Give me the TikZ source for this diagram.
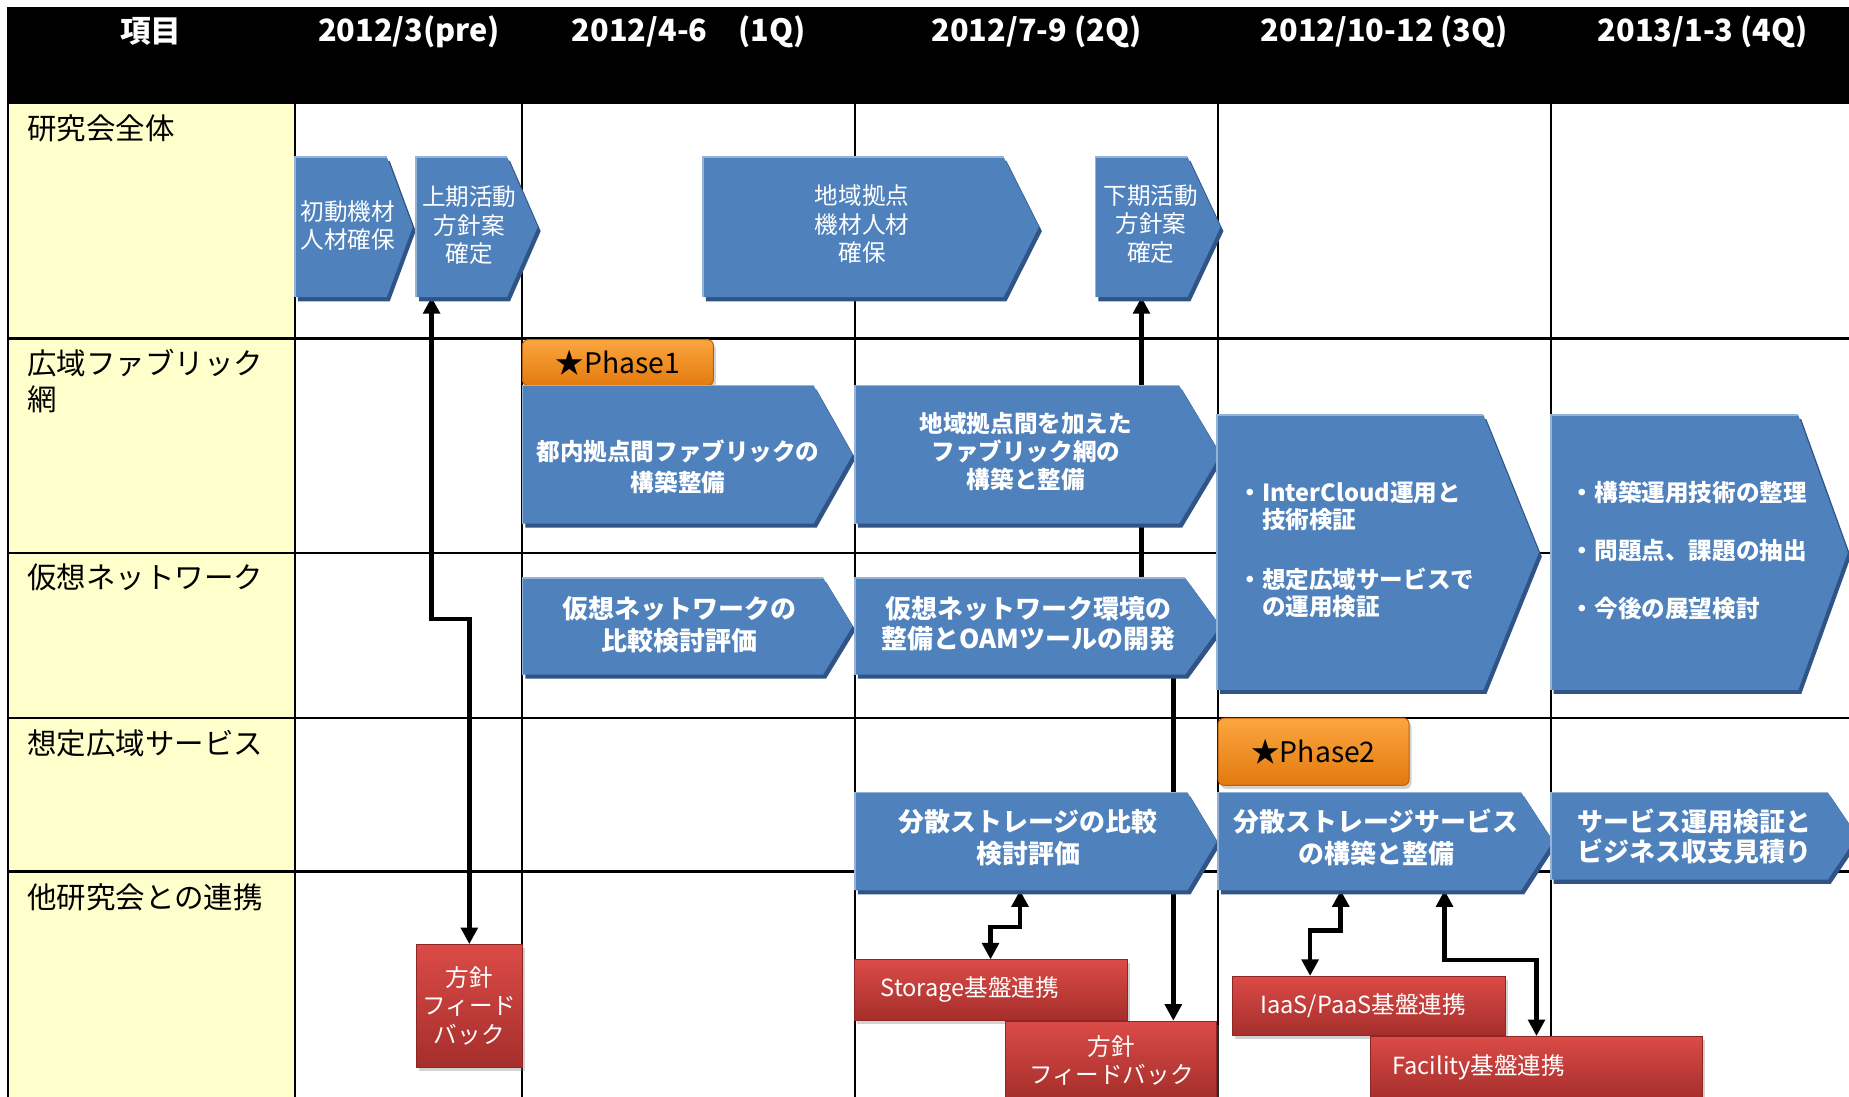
\documentclass[tikz,border=0pt]{standalone}
\usepackage{fontspec}
\setmainfont{Noto Sans CJK JP}
\usetikzlibrary{arrows.meta,shadows,fit}
\definecolor{yel}{HTML}{FFFFCC}
\definecolor{blu}{HTML}{4F81BD}
\definecolor{bludark}{HTML}{2F5485}
\definecolor{blulight}{HTML}{95B3D7}
\definecolor{redtop}{HTML}{DB4B47}
\definecolor{redbot}{HTML}{A52E2B}
\definecolor{redline}{HTML}{8E2724}
\definecolor{orgtop}{HTML}{FCA63F}
\definecolor{orgbot}{HTML}{E27A0E}
\definecolor{orgline}{HTML}{B8600A}
\pgfdeclarelayer{gridlayer}
\pgfdeclarelayer{arrowlayer}
\pgfsetlayers{gridlayer,arrowlayer,main}
\newcommand{\mkchev}[6]{%
  \coordinate (#1-nw) at (#2,#3);
  \coordinate (#1-se) at (#4,#6);
  \node[fit=(#1-nw)(#1-se), inner sep=0pt, outer sep=0pt] (#1) {};
  \begin{scope}[shift={(2.5,3.5)}]
    \fill[bludark] (#2,#3) -- (#4,#3) -- (#5,{(#3+#6)/2}) -- (#4,#6) -- (#2,#6) -- cycle;
  \end{scope}
  \fill[blu] (#2,#3) -- (#4,#3) -- (#5,{(#3+#6)/2}) -- (#4,#6) -- (#2,#6) -- cycle;
  \draw[blulight, line width=1.5pt] (#2,#6) -- (#2,#3) -- (#4,#3);
}
\begin{document}
\begin{tikzpicture}[x=1pt,y=-1pt,
  gridline/.style={line width=1.8pt, black},
  hdrtxt/.style={text=white, font=\bfseries\fontsize{26}{30}\selectfont, inner sep=0pt},
  rowlbl/.style={anchor=west, align=left, inner sep=0pt, font=\fontsize{25}{30}\selectfont},
  wtxt/.style={text=white, align=center, inner sep=0pt, font=\fontsize{20}{24}\selectfont},
  wbold/.style={text=white, align=center, inner sep=0pt, font=\bfseries\fontsize{20}{25}\selectfont},
  wbig/.style={text=white, align=center, inner sep=0pt, font=\bfseries\fontsize{22}{27}\selectfont},
  rbox/.style={rectangle, top color=redtop, bottom color=redbot, draw=redline, line width=0.8pt,
    text=white, align=center, inner sep=0pt, font=\fontsize{20}{24}\selectfont,
    drop shadow={shadow xshift=2pt, shadow yshift=-3pt, opacity=0.35}},
  obox/.style={rectangle, rounded corners=5pt, top color=orgtop, bottom color=orgbot, draw=orgline,
    line width=0.8pt, text=black, inner sep=0pt, font=\fontsize{24}{28}\selectfont,
    drop shadow={shadow xshift=2pt, shadow yshift=-3pt, opacity=0.35}},
  arr/.style={line width=4pt, black, arrows={Triangle[length=14pt,width=14pt]-Triangle[length=14pt,width=14pt]}}
]
\useasboundingbox (0,0) rectangle (1568,930);
\clip (0,0) rectangle (1568,930);
\begin{pgfonlayer}{gridlayer}
  \fill[white] (0,0) rectangle (1568,930);
  \fill[yel] (7,88) rectangle (250,930);
  \fill[black] (7,6) rectangle (1568,88);
  \foreach \x in {250,443,725,1033,1315} \draw[gridline] (\x,88) -- (\x,930);
  \draw[gridline] (7,6) -- (7,930);
  \foreach \y in {287,469,609,739} \draw[gridline] (7,\y) -- (1568,\y);
\end{pgfonlayer}

% header
\node[hdrtxt] (h0) at (128,27) {項目};
\node[hdrtxt] (h1) at (347,27) {2012/3(pre)};
\node[hdrtxt] (h2) at (584,27) {2012/4-6　(1Q)};
\node[hdrtxt] (h3) at (879,27) {2012/7-9 (2Q)};
\node[hdrtxt] (h4) at (1174,27) {2012/10-12 (3Q)};
\node[hdrtxt] (h5) at (1444,27) {2013/1-3 (4Q)};

% row labels
\node[rowlbl] (r1) at (23,109) {研究会全体};
\node[rowlbl] (r2) at (23,323) {広域ファブリック\\網};
\node[rowlbl] (r3) at (23,490) {仮想ネットワーク};
\node[rowlbl] (r4) at (23,630) {想定広域サービス};
\node[rowlbl] (r5) at (23,761) {他研究会との連携};

% row 1
\mkchev{b1}{250}{133}{328}{350}{252}
\node[wtxt] (b1t) at (295,191) {初動機材\\人材確保};
\mkchev{b2}{353}{133}{430}{456}{252}
\node[wtxt] (b2t) at (398,191) {上期活動\\方針案\\確定};
\mkchev{b3}{596}{133}{851}{881}{252}
\node[wtxt] (b3t) at (731,190) {地域拠点\\機材人材\\確保};
\mkchev{b4}{929}{133}{1007}{1035}{252}
\node[wtxt] (b4t) at (976,190) {下期活動\\方針案\\確定};

% row 2
\node[obox, minimum width=162pt, minimum height=39pt] (p1) at (524,307.5) {★Phase1};
\mkchev{f1}{443}{327}{690}{723}{444}
\node[wbold, font=\bfseries\fontsize{20}{26}\selectfont] (f1t) at (575,396) {都内拠点間ファブリックの\\構築整備};
\mkchev{f2}{725}{327}{1000}{1035}{444}
\node[wbold, font=\bfseries\fontsize{20}{24}\selectfont] (f2t) at (870,383) {地域拠点間を加えた\\ファブリック網の\\構築と整備};

% row 3
\mkchev{v1}{443}{490}{698}{723}{572}
\node[wbig] (v1t) at (576,529.5) {仮想ネットワークの\\比較検討評価};
\mkchev{v2}{725}{490}{1005}{1035}{572}
\node[wbig, font=\bfseries\fontsize{22}{26}\selectfont] (v2t) at (872,529) {仮想ネットワーク環境の\\整備とOAMツールの開発};

% 3Q / 4Q large boxes
\mkchev{q3}{1032}{352}{1258}{1305}{585}
\node[wbold, anchor=west, align=left, font=\bfseries\fontsize{20}{23}\selectfont] (q3t) at (1050,466.5)
  {・InterCloud運用と\\\hspace*{1em}技術検証\\[28pt]・想定広域サービスで\\\hspace*{1em}の運用検証};
\mkchev{q4}{1315}{352}{1525}{1567}{585}
\node[wbold, anchor=west, align=left, font=\bfseries\fontsize{20}{49}\selectfont] (q4t) at (1332,467)
  {・構築運用技術の整理\\・問題点、課題の抽出\\・今後の展望検討};

% row 4
\node[obox, minimum width=162pt, minimum height=57pt] (p2) at (1114,637.5) {★Phase2};
\mkchev{s1}{725}{672}{1007}{1032}{755}
\node[wbig] (s1t) at (872,710.5) {分散ストレージの比較\\検討評価};
\mkchev{s2}{1033}{672}{1290}{1317}{755}
\node[wbig] (s2t) at (1167,710.5) {分散ストレージサービス\\の構築と整備};
\mkchev{s3}{1315}{672}{1550}{1575}{746}
\node[wbig, font=\bfseries\fontsize{22}{25}\selectfont] (s3t) at (1437,709.5) {サービス運用検証と\\ビジネス収支見積り};

% row 5 red boxes
\node[rbox, minimum width=90pt, minimum height=104pt] (rf1) at (398,853) {方針\\フィード\\バック};
\node[rbox, minimum width=231pt, minimum height=51pt] (rs) at (840.5,839.5) {\hspace*{-36pt}Storage基盤連携};
\node[rbox, minimum width=179pt, minimum height=66pt] (rf2) at (942.5,899) {方針\\フィードバック};
\node[rbox, minimum width=232pt, minimum height=50pt] (ri) at (1161,853) {\hspace*{-10pt}IaaS/PaaS基盤連携};
\node[rbox, minimum width=282pt, minimum height=53pt] (rfa) at (1303,905.5) {\hspace*{-98pt}Facility基盤連携};

% connectors
\coordinate (xa) at (366,0);
\coordinate (ja) at (398,525);
\coordinate (xb) at (968,0);
\coordinate (jb) at (995,530);
\coordinate (xc) at (865,0);
\coordinate (jc) at (840,786);
\coordinate (xd) at (1137,0);
\coordinate (jd) at (1111,789);
\coordinate (xe) at (1225,0);
\coordinate (je) at (1303,814);
\begin{pgfonlayer}{arrowlayer}
  \draw[arr] (b2.south -| xa) |- (ja) -- (rf1.north -| ja);
  \draw[arr] (b4.south -| xb) |- (jb) -- (rf2.north -| jb);
  \draw[arr] (s1.south -| xc) |- (jc) -- (rs.north -| jc);
  \draw[arr] (s2.south -| xd) |- (jd) -- (ri.north -| jd);
  \draw[arr] (s2.south -| xe) |- (je) -- (rfa.north -| je);
\end{pgfonlayer}
\end{tikzpicture}
\end{document}
